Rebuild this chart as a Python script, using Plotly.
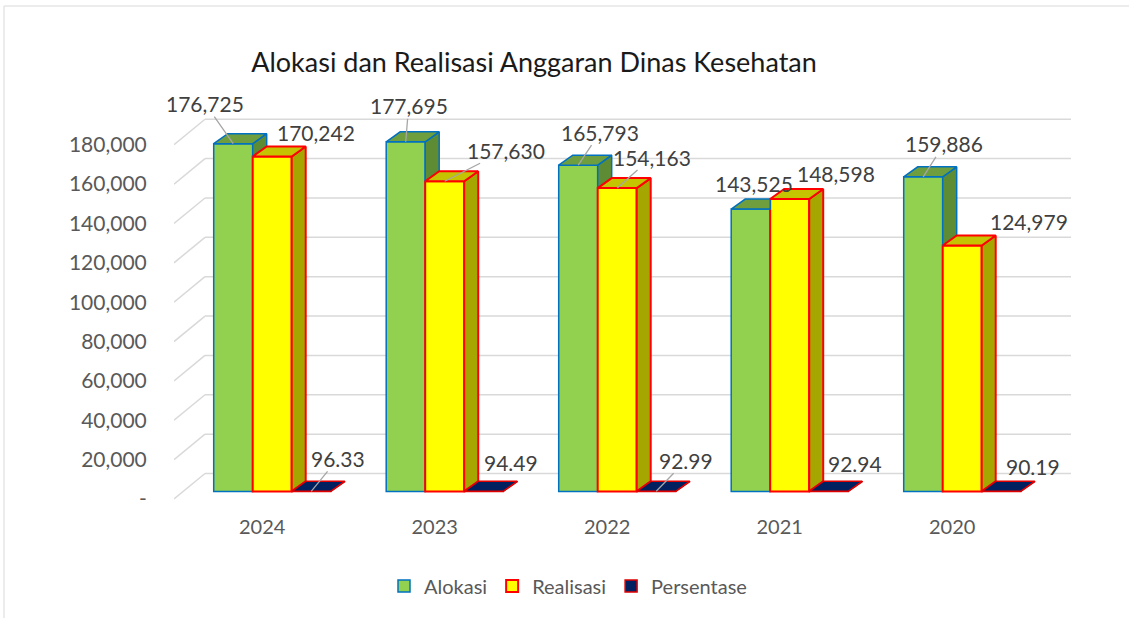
import plotly.graph_objects as go

# ---------------- data ----------------
years = ["2024", "2023", "2022", "2021", "2020"]
alokasi = [176725, 177695, 165793, 143525, 159886]
realisasi = [170242, 157630, 154163, 148598, 124979]
persentase = [96.33, 94.49, 92.99, 92.94, 90.19]
value_ticks = [0, 20000, 40000, 60000, 80000, 100000, 120000, 140000, 160000, 180000]
value_tick_text = ["-", "20,000", "40,000", "60,000", "80,000", "100,000",
                   "120,000", "140,000", "160,000", "180,000"]
series_names = ["Alokasi", "Realisasi", "Persentase"]

# ---------------- layout / style constants ----------------
W, H = 1129, 618
PL, PR, PT, PB = 174, 1071, 90, 505          # plot area in px
PX_PER_CAT = 172.5
PX_PER_VAL = 0.001968
BASE_PX = 491.5          # px of value 0 on bar fronts
LABEL0_PX = 499          # px of value 0 for axis labels (front wall edge)
FIRST_CAT_PX = 262.2
WALL_DX, WALL_DY = 31, 18
BAR_DX, BAR_DY = 14, 10
FONT = "Lato"

x0 = (PL - FIRST_CAT_PX) / PX_PER_CAT
x1 = x0 + (PR - PL) / PX_PER_CAT
ya = -(PB - BASE_PX) / PX_PER_VAL
yb = ya + (PB - PT) / PX_PER_VAL
ya2 = -(PB - LABEL0_PX) / PX_PER_VAL
yb2 = ya2 + (PB - PT) / PX_PER_VAL

bar_w = 39 / PX_PER_CAT
offsets = [-29 / PX_PER_CAT, 10 / PX_PER_CAT, 49 / PX_PER_CAT]
bdx = BAR_DX / PX_PER_CAT
bdy = BAR_DY / PX_PER_VAL

front_col = ["#92D050", "#FFFF00", "#002060"]
top_col = ["#6E9E3E", "#C4C400", "#002060"]
side_col = ["#5E8C34", "#A6A600", "#001A50"]
edge_col = ["#0070C0", "#FF0000", "#E00000"]
edge_w = [1.5, 2, 1.5]

# label placement (pixel offsets from bar front-top centre) and leader flags
lab_off = [
    [(-28, -40), (3, -36), (22, -33), (3, -26), (21, -33)],
    [(44, -24), (61, -31), (35, -31), (46, -26), (67, -24)],
    [(27, -33), (27, -29), (30, -31), (26, -28), (32, -25)],
]
lab_leader = [
    [True, True, True, False, True],
    [False, True, True, False, False],
    [True, False, True, False, False],
]

series_vals = [alokasi, realisasi, persentase]
cats = list(range(len(years)))

fig = go.Figure()

# front faces as real bars
for k, name in enumerate(series_names):
    fig.add_trace(go.Bar(
        x=[i + offsets[k] for i in cats], y=series_vals[k], width=bar_w,
        name=name, marker=dict(color=front_col[k], line=dict(color=edge_col[k], width=edge_w[k])),
        hoverinfo="y",
    ))

# 3D side and top faces
for k in range(3):
    vals = series_vals[k]
    nxt = series_vals[k + 1] if k < 2 else [0] * len(cats)
    sx, sy, tx, ty = [], [], [], []
    for i in cats:
        v = vals[i]
        vn = nxt[i]
        c = i + offsets[k]
        xl, xr = c - bar_w / 2, c + bar_w / 2
        if v > vn:
            sx += [xr, xr, xr + bdx, xr + bdx, xr, None]
            sy += [vn, v, v + bdy, vn + bdy, vn, None]
        if vn > v:
            tx += [xl, xr, xr, xl + bdx, xl, None]
            ty += [v, v, v + bdy, v + bdy, v, None]
        else:
            tx += [xl, xr, xr + bdx, xl + bdx, xl, None]
            ty += [v, v, v + bdy, v + bdy, v, None]
    fig.add_trace(go.Scatter(x=sx, y=sy, fill="toself", fillcolor=side_col[k], mode="lines",
                             line=dict(color=edge_col[k], width=edge_w[k]),
                             hoverinfo="skip", showlegend=False))
    fig.add_trace(go.Scatter(x=tx, y=ty, fill="toself", fillcolor=top_col[k], mode="lines",
                             line=dict(color=edge_col[k], width=edge_w[k]),
                             hoverinfo="skip", showlegend=False))

# invisible trace to host the label axis
fig.add_trace(go.Scatter(x=[x0], y=[0], yaxis="y2", mode="markers",
                         marker=dict(opacity=0), hoverinfo="skip", showlegend=False))

# walls: back gridlines and side-wall diagonals
shapes = []
back_off = WALL_DY / PX_PER_VAL
front_off = (LABEL0_PX - BASE_PX) / PX_PER_VAL
xb = x0 + WALL_DX / PX_PER_CAT
for v in value_ticks:
    shapes.append(dict(type="line", xref="x", yref="y", x0=xb, x1=x1, y0=v + back_off, y1=v + back_off,
                       line=dict(color="#D9D9D9", width=1.5), layer="below"))
    shapes.append(dict(type="line", xref="x", yref="y", x0=x0, x1=xb, y0=v - front_off, y1=v + back_off,
                       line=dict(color="#D9D9D9", width=1.5), layer="below"))
# outer chart border
shapes.append(dict(type="rect", xref="paper", yref="paper",
                   x0=(4 - PL) / (PR - PL), x1=(1140 - PL) / (PR - PL),
                   y0=(PB - 630) / (PB - PT), y1=(PB - 6) / (PB - PT),
                   line=dict(color="#D9D9D9", width=1), fillcolor="rgba(0,0,0,0)", layer="below"))

annotations = []
for k in range(3):
    for i in cats:
        v = series_vals[k][i]
        txt = f"{v:,.2f}" if k == 2 else f"{v:,}"
        dx, dy = lab_off[k][i]
        c = i + offsets[k]
        if lab_leader[k][i]:
            annotations.append(dict(x=c, y=v, xref="x", yref="y", text=txt, showarrow=True,
                                    ax=dx, ay=dy, arrowhead=0, arrowwidth=1.3, arrowcolor="#A6A6A6",
                                    standoff=0, borderpad=0,
                                    font=dict(family=FONT, size=21, color="#404040")))
        else:
            annotations.append(dict(x=c, y=v, xref="x", yref="y", text=txt, showarrow=False,
                                    xshift=dx, yshift=-dy, xanchor="center", yanchor="middle",
                                    font=dict(family=FONT, size=21, color="#404040")))

fig.update_layout(
    width=W, height=H,
    margin=dict(l=PL, r=W - PR, t=PT, b=H - PB, pad=0),
    paper_bgcolor="white", plot_bgcolor="rgba(0,0,0,0)",
    barmode="overlay",
    title=dict(text="Alokasi dan Realisasi Anggaran Dinas Kesehatan",
               x=534 / W, xref="container", xanchor="center",
               y=1 - 63 / H, yref="container", yanchor="middle",
               font=dict(family=FONT, size=27, color="#1A1A1A")),
    xaxis=dict(range=[x0, x1], tickvals=cats, ticktext=years, showgrid=False, zeroline=False,
               showline=False, ticks="outside", ticklen=4, tickcolor="rgba(0,0,0,0)",
               tickfont=dict(family=FONT, size=20, color="#595959"), fixedrange=True),
    yaxis=dict(range=[ya, yb], showgrid=False, zeroline=False, showline=False,
               showticklabels=False, fixedrange=True),
    yaxis2=dict(range=[ya2, yb2], overlaying="y", side="left", tickvals=value_ticks,
                ticktext=value_tick_text, showgrid=False, zeroline=False, showline=False,
                ticks="outside", ticklen=22, tickcolor="rgba(0,0,0,0)",
                tickfont=dict(family=FONT, size=21, color="#595959"), fixedrange=True),
    legend=dict(orientation="h", xref="container", yref="container", x=568 / W, y=1 - 586 / H,
                xanchor="center", yanchor="middle",
                font=dict(family=FONT, size=20, color="#595959"), traceorder="normal"),
    shapes=shapes, annotations=annotations, showlegend=True,
)

fig.write_html("out.html", config={"displayModeBar": False},
               post_script="document.body.style.margin='0';")
